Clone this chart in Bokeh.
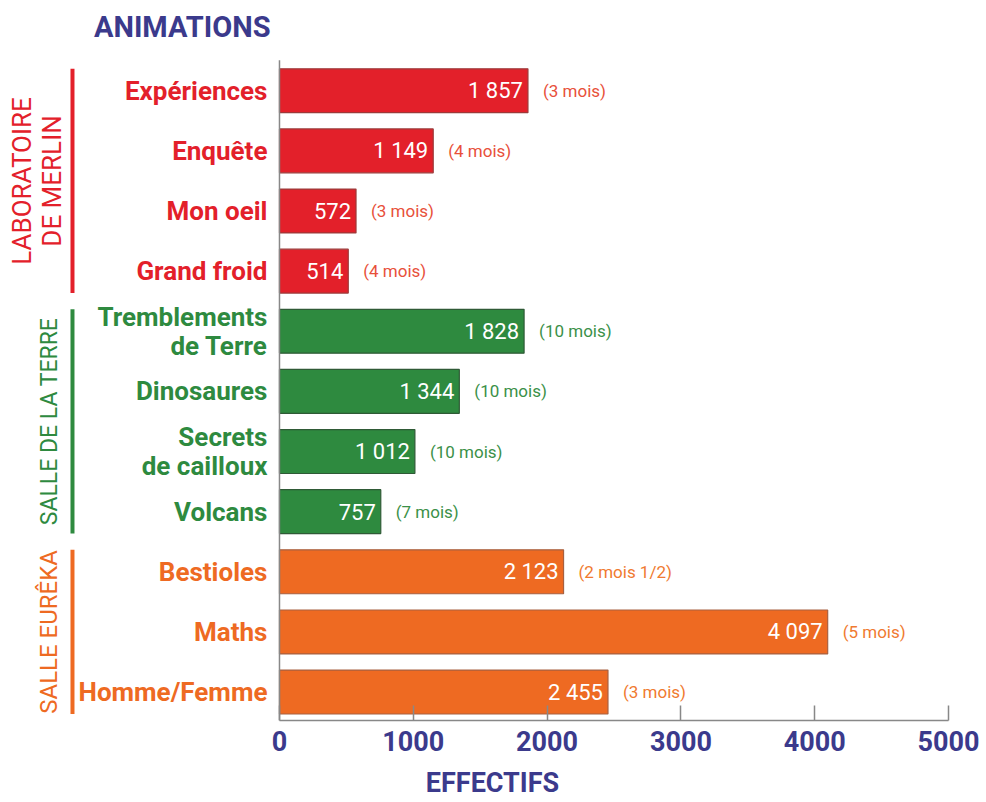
import math
from bokeh.plotting import figure
from bokeh.models import Range1d, FixedTicker, ColumnDataSource
from bokeh.core.properties import value
from bokeh.embed import file_html
from bokeh.resources import INLINE

# ---- data ----
categories = ["Expériences", "Enquête", "Mon oeil", "Grand froid",
              "Tremblements\nde Terre", "Dinosaures", "Secrets\nde cailloux", "Volcans",
              "Bestioles", "Maths", "Homme/Femme"]
effectifs = [1857, 1149, 572, 514, 1828, 1344, 1012, 757, 2123, 4097, 2455]
durees = ["(3 mois)", "(4 mois)", "(3 mois)", "(4 mois)",
          "(10 mois)", "(10 mois)", "(10 mois)", "(7 mois)",
          "(2 mois 1/2)", "(5 mois)", "(3 mois)"]
groupes = ["LABORATOIRE\nDE MERLIN", "SALLE DE LA TERRE", "SALLE EURÊKA"]
groupe_taille = [4, 4, 3]
x_ticks = [0, 1000, 2000, 3000, 4000, 5000]

# ---- styles ----
FONT = "Roboto"
BLUE = "#3b3a8c"
fills = ["#e3202a", "#2e8a3f", "#ee6a22"]
edges = ["#9c3a3a", "#2f5a36", "#a86040"]
month_cols = ["#e8503a", "#3b9048", "#f07a30"]
group_font_sizes = ["26px", "23px", "24px"]

grp_idx = []
for g, n in enumerate(groupe_taille):
    grp_idx += [g] * n

ypos = list(range(len(categories)))
HALF = 0.365

src = ColumnDataSource(dict(
    y=ypos, v=effectifs, cat=categories, dur=durees,
    lab=[f"{v // 1000} {v % 1000:03d}" if v >= 1000 else str(v) for v in effectifs],
    fill=[fills[g] for g in grp_idx], edge=[edges[g] for g in grp_idx],
    mcol=[month_cols[g] for g in grp_idx],
))

p = figure(width=984, height=801, output_backend="svg", toolbar_location=None,
           x_range=Range1d(-2085, 5269), y_range=Range1d(10.473, -1.501),
           y_axis_location=None, min_border_left=0, min_border_right=0,
           min_border_top=0, min_border_bottom=79)
p.outline_line_color = None
p.grid.visible = False
p.background_fill_color = "white"

p.hbar(y="y", left=0, right="v", height=2 * HALF, source=src,
       fill_color="fill", line_color="edge", line_width=1.2)

# value labels inside bars
p.text(x="v", y="y", text="lab", source=src, x_offset=-5,
       text_align="right", text_baseline="middle", text_color="white",
       text_font=value(FONT), text_font_size="22px")
# duration labels
p.text(x="v", y="y", text="dur", source=src, x_offset=15,
       text_align="left", text_baseline="middle", text_color="mcol",
       text_font=value(FONT), text_font_size="17px")
# category labels
p.text(x=-90, y="y", text="cat", source=src,
       text_align="right", text_baseline="middle", text_color="fill",
       text_font=value(FONT), text_font_size="26px", text_font_style="bold",
       text_line_height=0.95)

# y axis line
p.segment(x0=[0], y0=[-0.506], x1=[0], y1=[10.473], line_color="#888888", line_width=1.5)

# group brackets and labels
start = 0
gy0, gy1, gyc, gcol = [], [], [], []
for g, n in enumerate(groupe_taille):
    gy0.append(start - HALF)
    gy1.append(start + n - 1 + HALF)
    gyc.append((2 * start + n - 1) / 2)
    gcol.append(fills[g])
    start += n
p.segment(x0=[-1547] * 3, y0=gy0, x1=[-1547] * 3, y1=gy1, line_color=gcol, line_width=4)
gsrc = ColumnDataSource(dict(x=[-1809, -1719, -1719], y=gyc, t=groupes, c=gcol,
                             fs=group_font_sizes))
p.text(x="x", y="y", text="t", source=gsrc, angle=math.pi / 2,
       text_align="center", text_baseline="middle", text_color="c",
       text_font=value(FONT), text_font_size="fs", text_line_height=1.0)

# title
p.text(x=[-67], y=[-1.06], text=["ANIMATIONS"], text_align="right", text_baseline="middle",
       text_color=BLUE, text_font=value(FONT), text_font_size="29px", text_font_style="bold")

ax = p.xaxis[0]
ax.bounds = (0, 5000)
ax.ticker = FixedTicker(ticks=x_ticks)
ax.major_tick_in = 15
ax.major_tick_out = 0
ax.minor_tick_line_color = None
ax.axis_line_color = "#888888"
ax.axis_line_width = 1.5
ax.major_tick_line_color = "#888888"
ax.major_tick_line_width = 1.5
ax.major_label_standoff = 10
ax.major_label_text_color = BLUE
ax.major_label_text_font = FONT
ax.major_label_text_font_size = "27px"
ax.major_label_text_font_style = "bold"
ax.axis_label = "EFFECTIFS"
ax.axis_label_standoff = 13
ax.axis_label_text_color = BLUE
ax.axis_label_text_font = FONT
ax.axis_label_text_font_size = "27px"
ax.axis_label_text_font_style = "bold"

open("out.html", "w").write(file_html(p, INLINE))
